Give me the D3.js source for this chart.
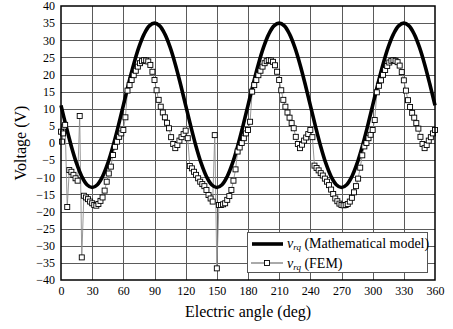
<!DOCTYPE html>
<html>
<head>
<meta charset="utf-8">
<script src="https://cdn.jsdelivr.net/npm/d3@7"></script>
<style>
  html, body { margin: 0; padding: 0; background: #fff; }
  svg { display: block; font-family: "Liberation Serif", "Times New Roman", serif; }
</style>
</head>
<body>
<svg id="chart" width="453" height="329"></svg>
<script>
// Axis ticks
const xTicks = [0, 30, 60, 90, 120, 150, 180, 210, 240, 270, 300, 330, 360];
const yTicks = [-40, -35, -30, -25, -20, -15, -10, -5, 0, 5, 10, 15, 20, 25, 30, 35, 40];

// Mathematical model, sampled every 5 degrees
const modelAngle = d3.range(0, 361, 5);
const modelValue = [
  11, 4.79, -1, -5.97, -9.78, -12.18, -13, -12.18, -9.78, -5.97, -1, 4.79,
  11, 17.21, 23, 27.97, 31.78, 34.18, 35, 34.18, 31.78, 27.97, 23, 17.21,
  11, 4.79, -1, -5.97, -9.78, -12.18, -13, -12.18, -9.78, -5.97, -1, 4.79,
  11, 17.21, 23, 27.97, 31.78, 34.18, 35, 34.18, 31.78, 27.97, 23, 17.21,
  11, 4.79, -1, -5.97, -9.78, -12.18, -13, -12.18, -9.78, -5.97, -1, 4.79,
  11, 17.21, 23, 27.97, 31.78, 34.18, 35, 34.18, 31.78, 27.97, 23, 17.21,
  11
];

// FEM results: electric angle (deg) and voltage (V)
const femAngle = [
  0, 1, 2, 3, 4, 6, 8, 10, 12, 14, 16, 18, 20, 22, 24, 26, 28, 30, 32, 34, 36, 38,
  40, 42, 44, 46, 48, 50, 52, 54, 56, 58, 60, 62, 64, 66, 68, 70, 72, 74, 76, 78,
  80, 82, 84, 86, 88, 90, 92, 94, 96, 98, 100, 102, 104, 106, 108, 110, 112, 114, 116, 118,
  120, 122, 124, 126, 128, 130, 132, 134, 136, 138, 140, 142, 144, 146, 148, 150, 152, 154, 156, 158,
  160, 162, 164, 166, 168, 170, 172, 174, 176, 178, 180, 182, 184, 186, 188, 190, 192, 194, 196, 198,
  200, 202, 204, 206, 208, 210, 212, 214, 216, 218, 220, 222, 224, 226, 228, 230, 232, 234, 236, 238,
  240, 242, 244, 246, 248, 250, 252, 254, 256, 258, 260, 262, 264, 266, 268, 270, 272, 274, 276, 278,
  280, 282, 284, 286, 288, 290, 292, 294, 296, 298, 300, 302, 304, 306, 308, 310, 312, 314, 316, 318,
  320, 322, 324, 326, 328, 330, 332, 334, 336, 338, 340, 342, 344, 346, 348, 350, 352, 354, 356, 358, 360
];
const femValue = [
  3.3, 0.4, 2.8, 4.8, 5.3, -18.7, -7.9, -8.4, -9.3, -10.3, -11.0, 7.9, -33.4, -15.4, -15.9, -16.4, -17.1, -17.6, -18.1, -18.3, -17.8, -16.9,
  -15.9, -13.9, -11.3, -8.9, -6.9, -3.5, -1.1, 0.4, 1.8, 2.8, 3.8, 7.5, 15.3, 16.9, 18.4, 19.8, 21.1, 22.3, 23.3, 23.9,
  24.2, 24.1, 23.8, 22.8, 20.8, 18.4, 15.4, 12.6, 10.6, 8.9, 7.5, 5.9, 4.3, 1.7, -0.3, -1.5, -0.6, 0.7, 1.7, 2.6,
  3.6, 1.4, -6.7, -7.4, -8.4, -9.3, -10.3, -11.3, -12.0, -12.6, -13.7, -15.2, -16.2, -17.1, 2.3, -36.6, -18.1, -18.1, -17.9, -17.6,
  -16.6, -15.5, -13.7, -11.0, -7.7, -2.5, -1.3, 0.0, 1.4, 2.8, 3.8, 6.2, 15.0, 16.9, 18.4, 19.8, 21.1, 22.3, 23.3, 23.9,
  24.2, 24.1, 23.7, 22.7, 20.8, 18.4, 15.4, 12.6, 10.6, 8.9, 7.4, 5.8, 4.3, 1.8, -0.3, -1.5, -0.5, 0.7, 1.6, 2.6,
  3.8, 1.7, -6.6, -7.3, -8.0, -8.8, -9.5, -10.4, -11.3, -12.3, -13.6, -14.9, -16.2, -17.0, -17.7, -18.1, -18.2, -18.1, -17.8, -17.1,
  -16.0, -14.4, -12.6, -10.4, -7.2, -3.6, -1.0, 0.0, 1.4, 2.4, 3.8, 6.7, 14.8, 16.7, 18.3, 19.9, 21.3, 22.5, 23.5, 24.0,
  24.2, 24.0, 23.6, 22.6, 20.7, 18.3, 15.3, 12.5, 10.5, 8.8, 7.4, 5.8, 4.2, 1.8, -0.3, -1.5, -0.6, 0.7, 1.7, 2.8, 3.8
];

const svg = d3.select("#chart");
const margin = { left: 61, right: 18, top: 6, bottom: 49 };
const W = 453, H = 329;
const x = d3.scaleLinear().domain([0, 360]).range([margin.left, W - margin.right]);
const y = d3.scaleLinear().domain([-40, 40]).range([H - margin.bottom, margin.top]);

// Grid
const grid = svg.append("g").attr("stroke", "#5a5a5a").attr("stroke-width", 1).attr("shape-rendering", "crispEdges");
grid.selectAll("line.v").data(xTicks.slice(1, -1)).join("line")
  .attr("x1", d => Math.round(x(d)) + 0.5).attr("x2", d => Math.round(x(d)) + 0.5)
  .attr("y1", y(40)).attr("y2", y(-40));
grid.selectAll("line.h").data(yTicks.slice(1, -1)).join("line")
  .attr("y1", d => Math.round(y(d)) + 0.5).attr("y2", d => Math.round(y(d)) + 0.5)
  .attr("x1", x(0)).attr("x2", x(360));

// Axes (labels only, frame drawn separately)
const xAxis = d3.axisBottom(x).tickValues(xTicks).tickSize(0).tickPadding(6);
const yAxis = d3.axisLeft(y).tickValues(yTicks).tickSize(0).tickPadding(6);
const gx = svg.append("g").attr("transform", `translate(0,${y(-40)})`).call(xAxis);
const gy = svg.append("g").attr("transform", `translate(${x(0)},0)`).call(yAxis);
[gx, gy].forEach(g => {
  g.select(".domain").remove();
  g.selectAll("text").attr("font-family", "Liberation Serif").attr("font-size", 12).attr("fill", "#000");
});

// FEM connecting line and markers
const fem = femAngle.map((a, i) => [a, femValue[i]]);
svg.append("path").datum(fem)
  .attr("fill", "none").attr("stroke", "#8c8c8c").attr("stroke-width", 0.9)
  .attr("d", d3.line().x(d => x(d[0])).y(d => y(d[1])));

// Mathematical model
const model = modelAngle.map((a, i) => [a, modelValue[i]]);
svg.append("path").datum(model)
  .attr("fill", "none").attr("stroke", "#000").attr("stroke-width", 3.6)
  .attr("d", d3.line().curve(d3.curveCatmullRom).x(d => x(d[0])).y(d => y(d[1])));

svg.append("g").selectAll("rect").data(fem).join("rect")
  .attr("x", d => x(d[0]) - 2.5).attr("y", d => y(d[1]) - 2.5)
  .attr("width", 5).attr("height", 5)
  .attr("fill", "#fff").attr("stroke", "#000").attr("stroke-width", 0.9);

// Plot frame
svg.append("rect")
  .attr("x", x(0)).attr("y", y(40))
  .attr("width", x(360) - x(0)).attr("height", y(-40) - y(40))
  .attr("fill", "none").attr("stroke", "#000").attr("stroke-width", 1.5);

// Legend
const lg = svg.append("g");
lg.append("rect").attr("x", 247.5).attr("y", 232.5).attr("width", 180).attr("height", 40)
  .attr("fill", "#fff").attr("stroke", "#555").attr("stroke-width", 1);
lg.append("line").attr("x1", 252).attr("x2", 283).attr("y1", 244).attr("y2", 244)
  .attr("stroke", "#000").attr("stroke-width", 3.6);
lg.append("line").attr("x1", 251).attr("x2", 283).attr("y1", 263).attr("y2", 263)
  .attr("stroke", "#555").attr("stroke-width", 1);
lg.append("rect").attr("x", 264.5).attr("y", 260.5).attr("width", 5).attr("height", 5)
  .attr("fill", "#fff").attr("stroke", "#000").attr("stroke-width", 0.9);

function legendLabel(yPos, rest) {
  const t = lg.append("text").attr("x", 287).attr("y", yPos)
    .attr("font-family", "Liberation Serif").attr("font-size", 14).attr("fill", "#000");
  t.append("tspan").attr("font-style", "italic").text("v");
  t.append("tspan").attr("font-style", "italic").attr("font-size", 9).attr("dy", 2).text("rq");
  t.append("tspan").attr("dy", -2).text(" " + rest);
}
legendLabel(248, "(Mathematical model)");
legendLabel(268, "(FEM)");

// Axis titles
svg.append("text").attr("x", (x(0) + x(360)) / 2).attr("y", 317)
  .attr("text-anchor", "middle").attr("font-size", 16).attr("fill", "#000")
  .text("Electric angle (deg)");
svg.append("text")
  .attr("transform", `translate(26,${(y(40) + y(-40)) / 2}) rotate(-90)`)
  .attr("text-anchor", "middle").attr("font-size", 16).attr("fill", "#000")
  .text("Voltage (V)");
</script>
</body>
</html>
